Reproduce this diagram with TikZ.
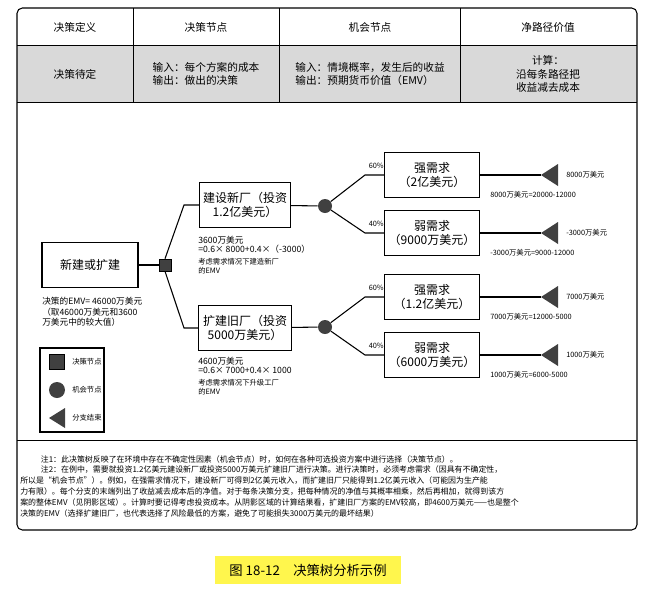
\documentclass[tikz,border=0pt]{standalone}
\usepackage{fontspec}
\setmainfont{Noto Sans CJK SC}
\usetikzlibrary{calc, positioning}
\tikzset{
  box/.style={draw, thick, fill=white, align=center, font=\fontsize{9}{11}\selectfont, inner sep=2pt},
  small/.style={font=\fontsize{5.5}{6.5}\selectfont, inner sep=0pt, align=left},
  cell/.style={font=\fontsize{8}{10}\selectfont, align=center},
  lnk/.style={thick},
  dec/.style={draw, fill=black!75, minimum size=9pt, inner sep=0pt},
  chance/.style={circle, fill=black!75, minimum size=10.5pt, inner sep=0pt},
  leaf/.style={fill=black!75}
}
\begin{document}
\begin{tikzpicture}[x=0.75pt, y=-0.75pt]
        \useasboundingbox (0,0) rectangle (657,593);
        % frame and table
        \fill[black!15] (17,45) rectangle (637,102);
        \draw[thick, rounded corners=4pt] (17,8) -- (17,530) -- (637,530) -- (637,8) -- cycle;
        \draw (17,45) -- (637,45) (17,102) -- (637,102) (17,440) -- (637,440);
        \foreach \x in {133,279,460}
            \draw (\x,8) -- (\x,102);
        \node[cell] at (75,27) {决策定义};
        \node[cell] at (206,27) {决策节点};
        \node[cell] at (370,27) {机会节点};
        \node[cell] at (548,27) {净路径价值};
        \node[cell] at (75,74) {决策待定};
        \node[cell, align=left] at (206,74) {输入：每个方案的成本\\输出：做出的决策};
        \node[cell, align=left] at (370,74) {输入：情境概率，发生后的收益\\输出：预期货币价值（EMV）};
        \node[cell] at (548,74) {计算：\\沿每条路径把\\收益减去成本};
        % tree
        \node[box, minimum width=72pt, minimum height=34pt] (root) at (90,265) {新建或扩建};
        \node[dec] (d) at (165,265) {};
        \node[box, minimum width=68pt, minimum height=34pt] (newp) at (245,205) {建设新厂（投资\\1.2亿美元）};
        \node[box, minimum width=70pt, minimum height=34pt] (oldp) at (245,328) {扩建旧厂（投资\\5000万美元）};
        \node[chance] (c1) at (325,206) {};
        \node[chance] (c2) at (325,327) {};
        \draw[lnk] (root) -- (d);
        \draw[lnk] (d.north) -- (184,205) -- (newp.west);
        \draw[lnk] (d.south) -- (184,328) -- (oldp.west);
        \draw[lnk] (newp) -- (c1);
        \draw[lnk] (oldp) -- (c2);
        \foreach \n/\y/\c/\p/\t/\r/\f in {
            a/175/c1/60\%/强需求\\（2亿美元）/8000万美元/8000万美元=20000-12000,
            b/233/c1/40\%/弱需求\\（9000万美元）/-3000万美元/-3000万美元=9000-12000,
            c/297/c2/60\%/强需求\\（1.2亿美元）/7000万美元/7000万美元=12000-5000,
            e/355/c2/40\%/弱需求\\（6000万美元）/1000万美元/1000万美元=6000-5000} {
            \node[box, minimum width=71pt, minimum height=34pt] (s\n) at (432,\y) {\t};
            \draw[lnk] (\c) -- (365,\y) -- (s\n.west);
            \node[small, anchor=south east] at (384,\y-6) {\p};
            \coordinate (t\n) at (541,\y);
            \fill[leaf] (t\n) -- ++(17,-11) -- ++(0,22) -- cycle;
            \draw[lnk] (s\n.east) -- (t\n);
            \node[small, anchor=west] at (566,\y) {\r};
            \node[small, anchor=west] at (490,\y+20) {\f};
        }
        % EMV notes
        \node[small, anchor=north west] at (198,236) {\fontsize{6.5}{8}\selectfont 3600万美元\\\fontsize{6.5}{8}\selectfont =0.6× 8000+0.4×（-3000）\\[3pt]考虑需求情况下建造新厂\\的EMV};
        \node[small, anchor=north west] at (198,357) {\fontsize{6.5}{8}\selectfont 4600万美元\\\fontsize{6.5}{8}\selectfont =0.6× 7000+0.4× 1000\\[3pt]考虑需求情况下升级工厂\\的EMV};
        \node[small, anchor=north west, font=\fontsize{6.5}{8}\selectfont] at (42,297) {决策的EMV= 46000万美元\\ （取46000万美元和3600\\万美元中的较大值）};
        % legend
        \draw[thick] (40,348) rectangle (104,432);
        \node[dec, minimum size=11pt] (lg1) at (57,362) {};
        \node[chance, minimum size=12pt] (lg2) at (57,390) {};
        \fill[leaf] (49,418) -- (65,408) -- (65,428) -- cycle;
        \node[small, anchor=west] at (72,362) {决策节点};
        \node[small, anchor=west] at (72,390) {机会节点};
        \node[small, anchor=west] at (72,418) {分支结束};
        % notes
        \node[small, anchor=north west, font=\fontsize{5.95}{8.2}\selectfont] at (20,455) {\hspace*{2.6em}注1：此决策树反映了在环境中存在不确定性因素（机会节点）时，如何在各种可选投资方案中进行选择（决策节点）。\\
        \hspace*{2.6em}注2：在例中，需要就投资1.2亿美元建设新厂或投资5000万美元扩建旧厂进行决策。进行决策时，必须考虑需求（因具有不确定性，\\
        所以是“机会节点”）。例如，在强需求情况下，建设新厂可得到2亿美元收入，而扩建旧厂只能得到1.2亿美元收入（可能因为生产能\\
        力有限）。每个分支的末端列出了收益减去成本后的净值。对于每条决策分支，把每种情况的净值与其概率相乘，然后再相加，就得到该方\\
        案的整体EMV（见阴影区域）。计算时要记得考虑投资成本。从阴影区域的计算结果看，扩建旧厂方案的EMV较高，即4600万美元——也是整个\\
        决策的EMV（选择扩建旧厂，也代表选择了风险最低的方案，避免了可能损失3000万美元的最坏结果）};
        % caption
        \node[fill=yellow!70, minimum width=140pt, minimum height=21pt, font=\fontsize{10}{12}\selectfont] (cap) at (308,570) {图 18-12\quad 决策树分析示例};
    \end{tikzpicture}
\end{document}
